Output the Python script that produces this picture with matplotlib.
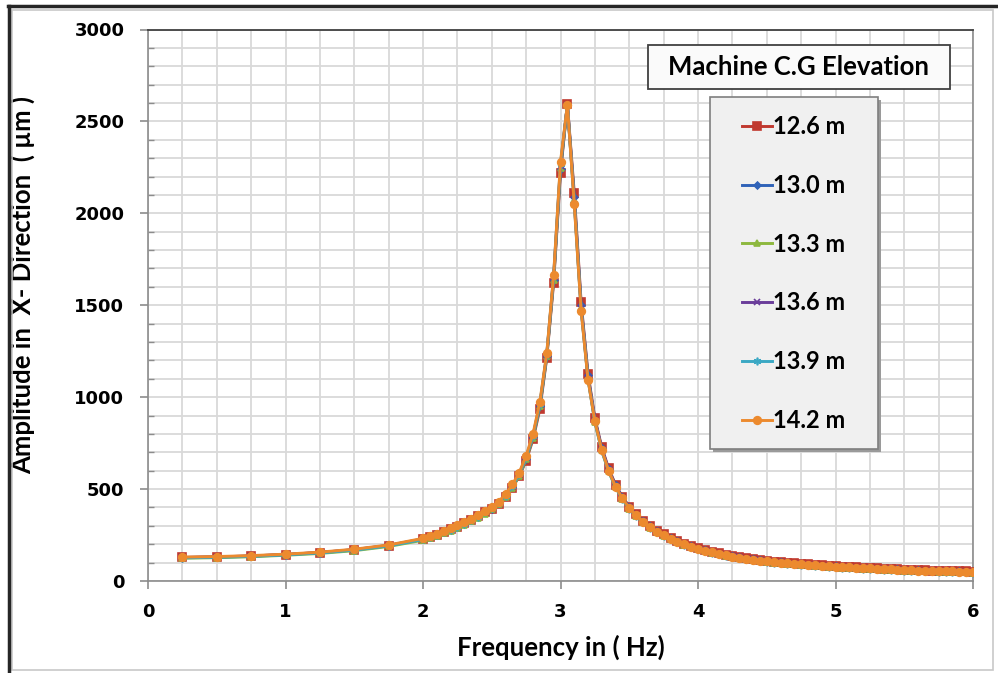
import matplotlib.pyplot as plt
from matplotlib.ticker import MultipleLocator
from matplotlib.lines import Line2D
from matplotlib.patches import Rectangle

# frequency points (Hz)
freq = [0.25, 0.5, 0.75, 1.0, 1.25, 1.5, 1.75,
        2.0, 2.05, 2.1, 2.15, 2.2, 2.25, 2.3, 2.35, 2.4, 2.45,
        2.5, 2.55, 2.6, 2.65, 2.7, 2.75, 2.8, 2.85, 2.9, 2.95,
        3.0, 3.05, 3.1, 3.15, 3.2, 3.25, 3.3, 3.35, 3.4, 3.45,
        3.5, 3.55, 3.6, 3.65, 3.7, 3.75, 3.8, 3.85, 3.9, 3.95,
        4.0, 4.05, 4.1, 4.15, 4.2, 4.25, 4.3, 4.35, 4.4, 4.45,
        4.5, 4.55, 4.6, 4.65, 4.7, 4.75, 4.8, 4.85, 4.9, 4.95,
        5.0, 5.05, 5.1, 5.15, 5.2, 5.25, 5.3, 5.35, 5.4, 5.45,
        5.5, 5.55, 5.6, 5.65, 5.7, 5.75, 5.8, 5.85, 5.9, 5.95, 6.0]

# amplitudes (micrometre) for each machine C.G elevation
amp_126 = [128, 131, 136, 144, 155, 170, 193,
           228, 240, 252, 266, 281, 296, 313, 331, 351, 374,
           393, 420, 458, 508, 570, 655, 770, 935, 1214, 1622,
           2220, 2595, 2112, 1515, 1128, 885, 727, 612, 524, 458,
           405, 363, 329, 299, 274, 253, 234, 218, 203, 190,
           178, 168, 159, 150, 142, 135, 129, 123, 118, 113,
           110, 106, 102, 99, 96, 93, 90, 87, 85, 82,
           80, 78, 76, 74, 72, 70, 68, 67, 65, 64,
           62, 61, 59, 58, 57, 56, 55, 54, 53, 52, 51]
amp_130 = [127, 130, 135, 143, 154, 169, 192,
           227, 239, 251, 265, 280, 295, 312, 330, 350, 373,
           394, 422, 461, 512, 576, 664, 782, 952, 1225, 1640,
           2240, 2592, 2090, 1500, 1118, 878, 721, 607, 520, 455,
           402, 360, 326, 297, 272, 251, 232, 216, 201, 188,
           176, 166, 157, 149, 141, 134, 128, 122, 117, 112,
           108, 104, 101, 98, 95, 92, 89, 86, 84, 81,
           79, 77, 75, 73, 71, 69, 67, 66, 64, 63,
           61, 60, 58, 57, 56, 55, 54, 53, 52, 51, 50]
amp_133 = [124, 127, 132, 140, 150, 165, 188,
           222, 234, 246, 259, 274, 289, 306, 324, 344, 367,
           390, 418, 457, 508, 573, 662, 780, 950, 1222, 1640,
           2245, 2588, 2075, 1485, 1105, 866, 710, 597, 511, 446,
           394, 353, 319, 290, 266, 245, 227, 211, 197, 184,
           172, 162, 153, 145, 137, 130, 124, 118, 113, 108,
           104, 100, 97, 94, 91, 88, 85, 82, 80, 77,
           75, 73, 71, 69, 67, 65, 63, 62, 60, 59,
           57, 56, 54, 53, 52, 51, 50, 49, 48, 47, 46]
amp_136 = [128, 131, 136, 144, 155, 171, 194,
           229, 241, 254, 268, 283, 299, 316, 334, 355, 378,
           398, 427, 466, 518, 582, 672, 790, 962, 1230, 1652,
           2260, 2590, 2070, 1485, 1105, 873, 717, 603, 517, 452,
           400, 359, 325, 296, 271, 250, 231, 215, 200, 187,
           176, 166, 157, 149, 141, 134, 128, 122, 117, 112,
           108, 104, 100, 97, 94, 91, 88, 85, 83, 80,
           78, 76, 74, 72, 70, 68, 66, 65, 63, 62,
           60, 59, 57, 56, 55, 54, 53, 52, 51, 50, 49]
amp_139 = [126, 129, 134, 142, 153, 168, 191,
           226, 238, 250, 264, 279, 295, 312, 330, 350, 374,
           396, 425, 464, 516, 581, 672, 790, 965, 1235, 1658,
           2270, 2588, 2058, 1475, 1098, 864, 708, 596, 510, 446,
           394, 353, 319, 290, 266, 245, 227, 211, 197, 184,
           172, 162, 153, 145, 137, 130, 124, 118, 113, 108,
           104, 100, 97, 94, 91, 88, 85, 82, 80, 77,
           75, 73, 71, 69, 67, 65, 63, 62, 60, 59,
           57, 56, 54, 53, 52, 51, 50, 49, 48, 47, 46]
amp_142 = [130, 133, 138, 146, 157, 173, 196,
           232, 244, 257, 271, 286, 302, 320, 338, 359, 383,
           403, 432, 472, 525, 590, 682, 800, 975, 1240, 1665,
           2280, 2590, 2050, 1470, 1095, 868, 713, 600, 514, 450,
           398, 357, 323, 294, 269, 248, 230, 214, 200, 187,
           175, 165, 156, 148, 140, 133, 127, 121, 116, 111,
           108, 104, 100, 97, 94, 91, 88, 85, 83, 80,
           78, 76, 74, 72, 70, 68, 66, 65, 63, 62,
           60, 59, 57, 56, 55, 54, 53, 52, 51, 50, 49]

labels = ['12.6 m', '13.0 m', '13.3 m', '13.6 m', '13.9 m', '14.2 m']
colors = ['#C0392F', '#2F62B8', '#8DB83E', '#6A3D9A', '#3BA8C4', '#EC8A2E']
markers = ['s', 'D', '^', 'x', (6, 2, 0), 'o']
msizes = [5.5, 3.5, 5, 5, 5.5, 5.5]
series = [amp_126, amp_130, amp_133, amp_136, amp_139, amp_142]

LFONT = 'Lato'

W, H = 998, 673
fig = plt.figure(figsize=(W / 100, H / 100), dpi=100)
ax = fig.add_axes([148 / W, 1 - 581 / H, (973 - 148) / W, (581 - 29.5) / H])

for amp, lab, c, m, ms in zip(series, labels, colors, markers, msizes):
    ax.plot(freq, amp, color=c, lw=2.1, marker=m, ms=ms, mew=1.2,
            label=lab, zorder=3)

ax.set_xlim(0, 6)
ax.set_ylim(0, 3000)
ax.xaxis.set_major_locator(MultipleLocator(1))
ax.xaxis.set_minor_locator(MultipleLocator(0.25))
ax.yaxis.set_major_locator(MultipleLocator(500))
ax.yaxis.set_minor_locator(MultipleLocator(100))
ax.grid(which='both', color='#D9D9D9', lw=1.3, zorder=0)
ax.set_axisbelow(True)

for s in ['left', 'bottom', 'right']:
    ax.spines[s].set_color('#8C8C8C')
    ax.spines[s].set_linewidth(1.2)
ax.spines['top'].set_color('#404040')
ax.spines['top'].set_linewidth(1.3)

ax.tick_params(which='major', direction='out', length=6, color='#8C8C8C',
               width=1.2)
ax.tick_params(axis='y', which='minor', direction='in', length=4,
               color='#8C8C8C', width=1)
ax.tick_params(axis='x', which='minor', length=0)
ax.tick_params(axis='x', pad=10)
ax.tick_params(axis='y', pad=11)
for t in ax.get_xticklabels() + ax.get_yticklabels():
    t.set_fontfamily('DejaVu Sans')
    t.set_fontweight('bold')
    t.set_fontsize(13)

ax.set_xlabel('Frequency in ( Hz)', fontfamily=LFONT, fontweight='bold',
              fontsize=18.5)
ax.set_ylabel('Amplitude in  X- Direction  ( µm )', fontfamily=LFONT,
              fontweight='bold', fontsize=18.5)
ax.xaxis.set_label_coords(0.5, -(635 - 581) / 551.5)
ax.yaxis.set_label_coords(-(148 - 35) / 825, (581 - 285) / 551.5)

ft = fig.transFigure

# legend title box
ax.text(799 / W, 1 - 67 / H, 'Machine C.G Elevation', transform=ft,
        ha='center', va='center', fontfamily=LFONT, fontweight='bold',
        fontsize=18.5, zorder=7)
ax.add_patch(Rectangle((648 / W, 1 - 89 / H), (950 - 648) / W, 44 / H,
                       transform=ft, facecolor='#FAFAFA', edgecolor='#404040',
                       lw=1.3, zorder=4, clip_on=False))

# legend panel (drawn separately so its size can be set exactly)
ax.add_patch(Rectangle((713 / W, 1 - 452 / H), (878 - 710) / W,
                       (449 - 97) / H, transform=ft, facecolor='#9A9A9A',
                       edgecolor='none', zorder=4, clip_on=False))
ax.add_patch(Rectangle((710 / W, 1 - 449 / H), (878 - 710) / W,
                       (449 - 97) / H, transform=ft, facecolor='#F0F0F0',
                       edgecolor='#7F7F7F', lw=1.2, zorder=4.2,
                       clip_on=False))

leg = ax.legend(loc='upper left', bbox_to_anchor=(742 / W, 1 - 115 / H),
                bbox_transform=ft, frameon=False,
                prop={'family': LFONT, 'weight': 'bold', 'size': 17},
                labelspacing=1.515, handlelength=1.25, handletextpad=0.05,
                borderpad=0, borderaxespad=0)
leg.set_zorder(6)

# outer chart frame
fig.add_artist(Rectangle((12 / W, 1 - 670 / H), (993 - 12) / W, (670 - 10) / H,
                         transform=ft, facecolor='none',
                         edgecolor='#C8C8C8', lw=1.2))
fig.add_artist(Line2D([8 / W, 1], [1 - 6 / H, 1 - 6 / H],
                      transform=ft, color='#262626', lw=2.5))
fig.add_artist(Line2D([9 / W, 9 / W], [0, 1 - 6 / H],
                      transform=ft, color='#262626', lw=2.5))

fig.savefig('out.png', dpi=100)
